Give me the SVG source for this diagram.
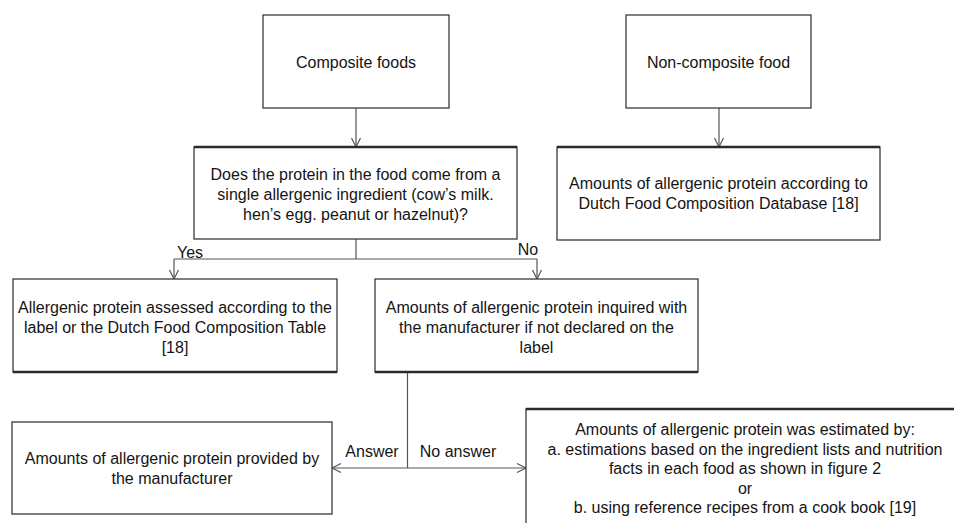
<svg xmlns="http://www.w3.org/2000/svg" width="954" height="523" viewBox="0 0 954 523">
<style>
.box{fill:#fff;stroke:#3a3a3a;stroke-width:1.3}
.edge{stroke:#2a2a2a;stroke-width:2.4;fill:none}
.t{font-family:"Liberation Sans",Arial,sans-serif;font-size:16px;fill:#141414;text-anchor:middle}
.c{stroke:#555;stroke-width:1.2;fill:none}
</style>
<defs>
<marker id="arr" markerUnits="userSpaceOnUse" markerWidth="12" markerHeight="12" viewBox="0 0 12 12" refX="10" refY="6" orient="auto">
<path d="M1,1.5 L10,6 L1,10.5" fill="none" stroke="#555" stroke-width="1.2"/>
</marker>
</defs>
<rect width="954" height="523" fill="#fff"/>
<g id="connectors">
<line class="c" x1="356" y1="108" x2="356" y2="147" marker-end="url(#arr)"/>
<line class="c" x1="719" y1="108" x2="719" y2="147" marker-end="url(#arr)"/>
<line class="c" x1="356" y1="239" x2="356" y2="259"/>
<line class="c" x1="174" y1="259" x2="537" y2="259"/>
<line class="c" x1="174" y1="259" x2="174" y2="279" marker-end="url(#arr)"/>
<line class="c" x1="537" y1="259" x2="537" y2="279" marker-end="url(#arr)"/>
<line class="c" x1="407.5" y1="372" x2="407.5" y2="468"/>
<line class="c" x1="407.5" y1="468" x2="332" y2="468" marker-end="url(#arr)"/>
<line class="c" x1="407.5" y1="468" x2="526" y2="468" marker-end="url(#arr)"/>
<text class="t" x="190" y="258">Yes</text>
<text class="t" x="528" y="255">No</text>
<text class="t" x="372" y="457">Answer</text>
<text class="t" x="458" y="457">No answer</text>
</g>
<g id="composite">
<rect class="box" x="263" y="15" width="186" height="93"/>
<text class="t" x="356" y="68">Composite foods</text>
</g>
<g id="noncomposite">
<rect class="box" x="626" y="15" width="185" height="93"/>
<text class="t" x="718.5" y="68">Non-composite food</text>
</g>
<g id="decision">
<rect class="box" x="194" y="147" width="323" height="92"/>
<line class="edge" x1="194" y1="147" x2="517" y2="147"/>
<text class="t" x="355.5" y="180">Does the protein in the food come from a</text>
<text class="t" x="355.5" y="200">single allergenic ingredient (cow’s milk.</text>
<text class="t" x="355.5" y="220">hen’s egg. peanut or hazelnut)?</text>
</g>
<g id="database">
<rect class="box" x="557" y="147" width="323" height="93"/>
<line class="edge" x1="557" y1="147" x2="880" y2="147"/>
<text class="t" x="718.5" y="189">Amounts of allergenic protein according to</text>
<text class="t" x="718.5" y="209">Dutch Food Composition Database [18]</text>
</g>
<g id="yes-box">
<rect class="box" x="13" y="279" width="324" height="93"/>
<line class="edge" x1="13" y1="372" x2="337" y2="372"/>
<text class="t" x="175" y="313">Allergenic protein assessed according to the</text>
<text class="t" x="175" y="333">label or the Dutch Food Composition Table</text>
<text class="t" x="175" y="353">[18]</text>
</g>
<g id="no-box">
<rect class="box" x="375" y="279" width="323" height="93"/>
<line class="edge" x1="375" y1="372" x2="698" y2="372"/>
<text class="t" x="536.5" y="313">Amounts of allergenic protein inquired with</text>
<text class="t" x="536.5" y="333">the manufacturer if not declared on the</text>
<text class="t" x="536.5" y="353">label</text>
</g>
<g id="provided">
<rect class="box" x="12" y="422" width="320" height="92"/>
<text class="t" x="172" y="464">Amounts of allergenic protein provided by</text>
<text class="t" x="172" y="484">the manufacturer</text>
</g>
<g id="estimated">
<rect class="box" x="526" y="409" width="440" height="130"/>
<line class="edge" x1="526" y1="409" x2="954" y2="409"/>
<text class="t" x="745" y="435">Amounts of allergenic protein was estimated by:</text>
<text class="t" x="745" y="454.5">a. estimations based on the ingredient lists and nutrition</text>
<text class="t" x="745" y="474">facts in each food as shown in figure 2</text>
<text class="t" x="745" y="493.5">or</text>
<text class="t" x="745" y="513">b. using reference recipes from a cook book [19]</text>
</g>
</svg>
